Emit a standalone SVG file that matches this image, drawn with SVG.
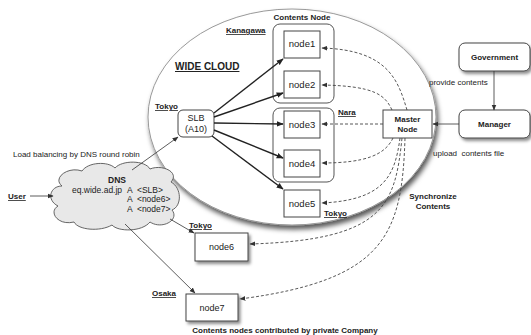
<svg xmlns="http://www.w3.org/2000/svg" width="531" height="335" viewBox="0 0 531 335">
<style>
text{font-family:"Liberation Sans",Arial,sans-serif;fill:#222;white-space:pre}
.b{font-weight:bold}
.lbl{font-size:8px;font-weight:bold;text-decoration:underline}
.nd{font-size:9.5px;text-anchor:middle}
.box{fill:#fff;stroke:#444;stroke-width:1}
.grp{fill:#fff;stroke:#555;stroke-width:1}
.thick{fill:none;stroke:#222;stroke-width:1.4}
.thin{fill:none;stroke:#333;stroke-width:0.8}
.dash{fill:none;stroke:#444;stroke-width:0.9;stroke-dasharray:3 2}
</style>
<defs>
<filter id="sh" x="-20%" y="-20%" width="140%" height="150%"><feDropShadow dx="2" dy="2.5" stdDeviation="1.5" flood-color="#000" flood-opacity="0.45"/></filter>
<filter id="esh" x="-10%" y="-10%" width="120%" height="125%"><feDropShadow dx="2" dy="4" stdDeviation="2.5" flood-color="#000" flood-opacity="0.65"/></filter>
<marker id="ah" viewBox="0 0 10 10" refX="9" refY="5" markerWidth="7" markerHeight="7" markerUnits="userSpaceOnUse" orient="auto"><path d="M0,1 L10,5 L0,9 z" fill="#222"/></marker>
<marker id="ahs" viewBox="0 0 10 10" refX="9" refY="5" markerWidth="6" markerHeight="6" markerUnits="userSpaceOnUse" orient="auto"><path d="M0,1 L10,5 L0,9 z" fill="#333"/></marker>
</defs>

<g id="cloud-area">
<ellipse cx="292" cy="117" rx="144" ry="108" fill="#fff" stroke="#999" stroke-width="1" filter="url(#esh)"/>
<text x="175" y="70" class="b" style="font-size:10px;text-decoration:underline">WIDE CLOUD</text>
<text x="302" y="20" class="b" style="font-size:8px" text-anchor="middle">Contents Node</text>
</g>

<g id="kanagawa">
<rect x="273" y="24" width="61" height="79" rx="7" class="grp"/>
<text x="226" y="33" class="lbl">Kanagawa</text>
</g>
<g id="nara">
<rect x="273" y="108" width="61" height="74" rx="7" class="grp"/>
<text x="338" y="115" class="lbl">Nara</text>
</g>

<g id="node1"><rect x="284" y="31" width="36" height="27" class="box"/><text x="302" y="47" class="nd">node1</text></g>
<g id="node2"><rect x="284" y="71" width="36" height="27" class="box"/><text x="302" y="87.5" class="nd">node2</text></g>
<g id="node3"><rect x="284" y="111" width="36" height="27" class="box"/><text x="302" y="127.5" class="nd">node3</text></g>
<g id="node4"><rect x="284" y="150" width="36" height="27" class="box"/><text x="302" y="166.5" class="nd">node4</text></g>
<g id="node5"><rect x="284" y="190" width="36" height="27" class="box"/><text x="302" y="206.5" class="nd">node5</text><text x="324" y="216" class="lbl">Tokyo</text></g>

<g id="slb"><rect x="178" y="110" width="36" height="27" rx="5" class="box"/><text x="196" y="121" class="nd" style="font-size:9px">SLB</text><text x="196" y="132" class="nd" style="font-size:9px">(A10)</text><text x="155" y="109" class="lbl">Tokyo</text></g>

<g id="master"><rect x="383" y="110" width="49" height="28" class="box"/><text x="407.5" y="121.5" class="b" style="font-size:8px" text-anchor="middle">Master</text><text x="407.5" y="132" class="b" style="font-size:8px" text-anchor="middle">Node</text></g>

<g id="government"><rect x="459" y="43" width="71" height="28" rx="6" class="box" filter="url(#sh)"/><text x="494.5" y="60" class="b" style="font-size:8px" text-anchor="middle">Government</text></g>
<g id="manager"><rect x="459" y="110" width="71" height="28" rx="6" class="box" filter="url(#sh)"/><text x="494.5" y="127" class="b" style="font-size:8px" text-anchor="middle">Manager</text></g>

<g id="node6"><rect x="195" y="233" width="53" height="28" class="box" filter="url(#sh)"/><text x="221.5" y="250" class="nd" style="font-size:9px">node6</text><text x="189" y="228" class="lbl">Tokyo</text></g>
<g id="node7"><rect x="186" y="294" width="52" height="27" class="box" filter="url(#sh)"/><text x="212" y="310.5" class="nd" style="font-size:9px">node7</text><text x="152" y="296" class="lbl">Osaka</text></g>

<g id="dns">
<path d="M62 186 C52 178,68 166,82 171 C88 162,108 161,115 168 C122 160,145 160,150 169 C162 164,180 172,171 182 C182 188,182 206,172 210 C180 220,162 230,150 222 C142 232,118 232,112 225 C100 232,78 230,74 222 C58 226,48 212,58 206 C46 200,50 186,62 186 Z" fill="#e8e8e8" stroke="#555" stroke-width="0.9"/>
<text x="117" y="183" class="b" style="font-size:8.5px" text-anchor="middle">DNS</text>
<text x="72" y="193" style="font-size:8.5px">eq.wide.ad.jp</text>
<text x="127" y="193" style="font-size:8.5px">A  &lt;SLB&gt;</text>
<text x="127" y="202" style="font-size:8.5px">A  &lt;node6&gt;</text>
<text x="127" y="211.5" style="font-size:8.5px">A  &lt;node7&gt;</text>
</g>

<g id="user"><text x="8" y="199" class="lbl">User</text></g>

<g id="labels">
<text x="13" y="157" style="font-size:8px">Load balancing by DNS round robin</text>
<text x="429" y="85" style="font-size:8px">provide contents</text>
<text x="433" y="156" style="font-size:8px">upload  contents file</text>
<text x="433" y="199" class="b" style="font-size:8px" text-anchor="middle">Synchronize</text>
<text x="433" y="209" class="b" style="font-size:8px" text-anchor="middle">Contents</text>
<text x="285" y="333" class="b" style="font-size:8px" text-anchor="middle">Contents nodes contributed by private Company</text>
</g>

<g id="connectors">
<path d="M214 113 L283 59" class="thick" marker-end="url(#ah)"/>
<path d="M214 117 L283 93" class="thick" marker-end="url(#ah)"/>
<path d="M214 123 L283 124" class="thick" marker-end="url(#ah)"/>
<path d="M214 130 L283 158" class="thick" marker-end="url(#ah)"/>
<path d="M212 136 L283 189" class="thick" marker-end="url(#ah)"/>
<path d="M30 196 L53 196" class="thin" marker-end="url(#ahs)"/>
<path d="M132 170 L178 137" class="thin" marker-end="url(#ahs)"/>
<path d="M170 219 L194 233" class="thin" marker-end="url(#ahs)"/>
<path d="M125 224 L195 293" class="thin" marker-end="url(#ahs)"/>
<path d="M494 71 L494 110" class="thin" marker-end="url(#ahs)"/>
<path d="M459 124 L433 124" class="thin" marker-end="url(#ahs)"/>
<path d="M407 110 C398 80,388 50,322 48" class="dash" marker-end="url(#ahs)"/>
<path d="M392 110 C385 95,375 86,322 85" class="dash" marker-end="url(#ahs)"/>
<path d="M383 124 L322 124" class="dash" marker-end="url(#ahs)"/>
<path d="M393 138 C385 155,365 163,322 163" class="dash" marker-end="url(#ahs)"/>
<path d="M400 138 C395 175,385 200,322 203" class="dash" marker-end="url(#ahs)"/>
<path d="M402 138 C395 205,385 240,250 244" class="dash" marker-end="url(#ahs)"/>
<path d="M405 138 C402 235,385 280,240 299" class="dash" marker-end="url(#ahs)"/>
</g>
</svg>
